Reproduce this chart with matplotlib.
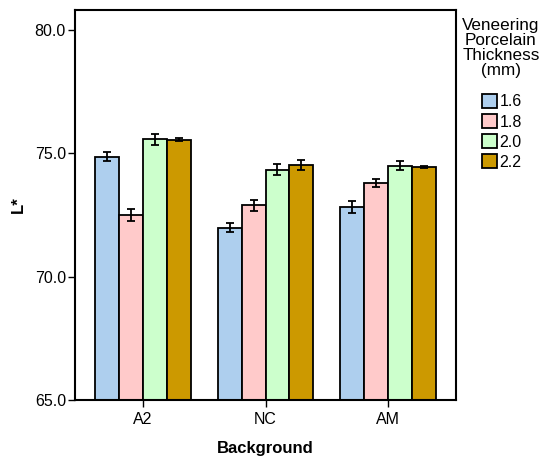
import matplotlib.pyplot as plt
import numpy as np

plt.rcParams['font.family'] = ['Liberation Sans', 'DejaVu Sans']

backgrounds = ['A2', 'NC', 'AM']
thickness = ['1.6', '1.8', '2.0', '2.2']
means = {
    '1.6': [74.85, 71.99, 72.83],
    '1.8': [72.49, 72.89, 73.80],
    '2.0': [75.56, 74.34, 74.50],
    '2.2': [75.54, 74.51, 74.45],
}
errors = {
    '1.6': [0.18, 0.19, 0.24],
    '1.8': [0.24, 0.22, 0.16],
    '2.0': [0.21, 0.22, 0.20],
    '2.2': [0.06, 0.20, 0.04],
}
colors = ['#AECFEE', '#FFCACA', '#CCFFCC', '#CC9900']


def main():
    fig = plt.figure(figsize=(5.41, 4.58), dpi=100)
    ax = fig.add_axes([0.1386, 0.1266, 0.7044, 0.8514])

    x = np.arange(len(backgrounds))
    width = 0.195
    for i, t in enumerate(thickness):
        pos = x + (i - 1.5) * width
        ax.bar(pos, means[t], width, bottom=0, color=colors[i],
               edgecolor='black', linewidth=1.3, label=t)
        ax.errorbar(pos, means[t], yerr=errors[t], fmt='none',
                    ecolor='black', elinewidth=1.3, capsize=3, capthick=1.3)

    ax.set_ylim(65, 80.8)
    ax.set_xlim(-0.553, 2.553)
    ax.set_yticks([65, 70, 75, 80])
    ax.set_yticklabels(['65.0', '70.0', '75.0', '80.0'], fontsize=11.5)
    ax.set_xticks(x)
    ax.set_xticklabels(backgrounds, fontsize=11.5)
    ax.tick_params(axis='both', direction='out', length=5, width=1)
    ax.tick_params(axis='y', pad=1.5)
    for s in ax.spines.values():
        s.set_linewidth(1.5)

    ax.set_ylabel('L*', fontsize=12, fontweight='bold', labelpad=6)
    ax.set_xlabel('Background', fontsize=12, fontweight='bold', labelpad=10)

    fig.text(501 / 541, 1 - 18 / 458, 'Veneering\nPorcelain\nThickness\n(mm)',
             ha='center', va='top', fontsize=12.3, linespacing=1.0)

    leg = fig.legend(loc='upper left', bbox_to_anchor=(474 / 541, 1 - 86 / 458),
                     frameon=False, fontsize=11.5, borderpad=0,
                     handlelength=0.95, handleheight=0.95,
                     handletextpad=0.15, labelspacing=0.3)
    for h in leg.legend_handles:
        h.set_linewidth(1.3)

    fig.savefig('out.png', dpi=100)


if __name__ == '__main__':
    main()
